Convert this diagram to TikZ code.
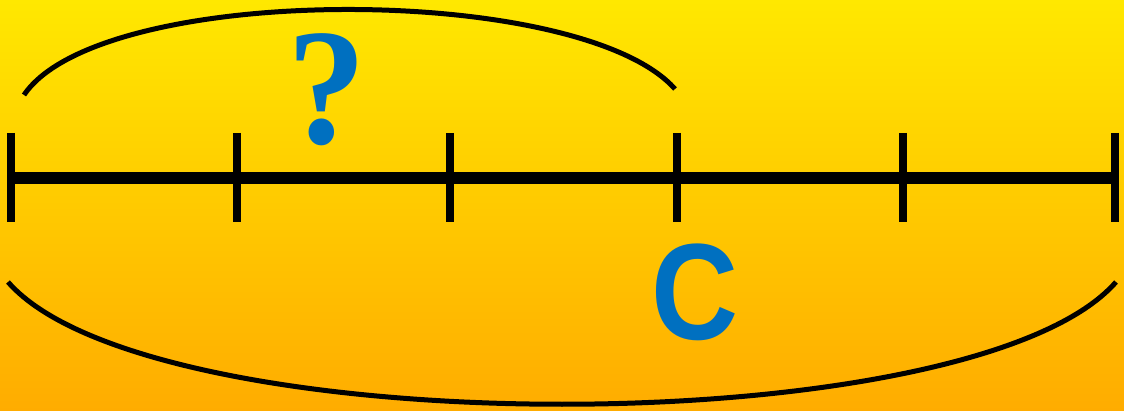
\documentclass[tikz,border=0pt]{standalone}
\usepackage{fontspec}
\newfontfamily\serifbold{Liberation Serif}
\newfontfamily\sansbold{Liberation Sans}
\usetikzlibrary{calc,positioning}
\definecolor{bgtop}{RGB}{255,232,0}
\definecolor{bgmid}{RGB}{255,208,0}
\definecolor{bgbot}{RGB}{255,172,0}
\definecolor{markblue}{RGB}{0,112,192}
\tikzset{
    myaxis/.style={line width=12pt,draw=black},
    mytick/.style={line width=8pt,draw=black},
    mybrace/.style={line width=5pt,draw=black},
    mylabel/.style={text=markblue,inner sep=0pt}
}
\begin{document}
\begin{tikzpicture}[x=1pt,y=-1pt]
  \useasboundingbox (0,0) rectangle (1124,411);
  \shade[top color=bgtop,middle color=bgmid,bottom color=bgbot] (0,0) rectangle (1124,411);
  % Teilpunkte auf der Strecke
  \coordinate (T0) at (11,178);
  \coordinate (T1) at (237,178);
  \coordinate (T2) at (450,178);
  \coordinate (T3) at (677,178);
  \coordinate (T4) at (903,178);
  \coordinate (T5) at (1115,178);
  \draw[myaxis] (T0)--(T5);
  \foreach \P in {T0,T1,T2,T3,T4,T5}{\draw[mytick] ($(\P)+(0,-45)$)--($(\P)+(0,44)$);}
  % Bögen oben und unten
  \coordinate (U0) at (24,95);
  \coordinate (U1) at (675,89);
  \coordinate (L0) at (8,282);
  \coordinate (L1) at (1116,282);
  \draw[mybrace] (U0) .. controls (100,-18) and (580,-18) .. (U1);
  \draw[mybrace] (L0) .. controls (150,445) and (974,445) .. (L1);
  \node[mylabel,xscale=0.95,font=\serifbold\bfseries\fontsize{166}{166}\selectfont] (frage) at (327,90) {?};
  \node[mylabel,xscale=0.88,font=\sansbold\bfseries\fontsize{137}{137}\selectfont] (c) at (695,292) {C};
\end{tikzpicture}
\end{document}
